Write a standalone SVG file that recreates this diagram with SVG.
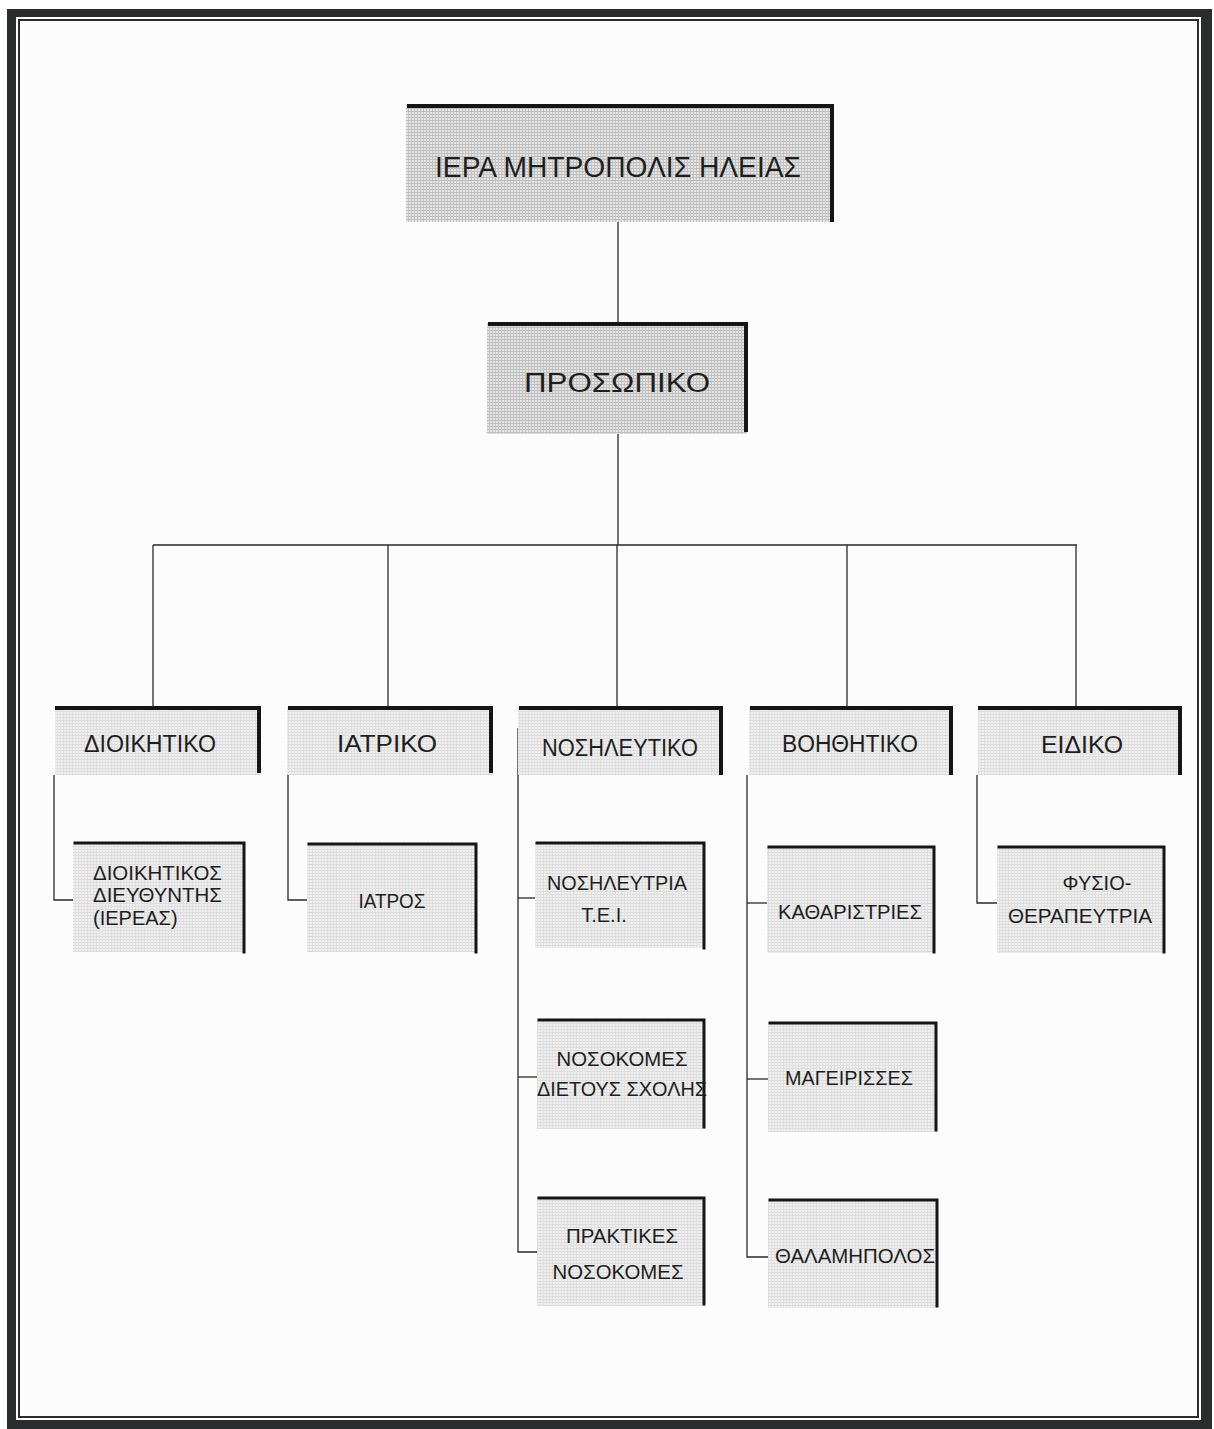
<svg xmlns="http://www.w3.org/2000/svg" width="1214" height="1429" viewBox="0 0 1214 1429">
<style>
.t{font-family:"Liberation Sans",Arial,sans-serif;fill:#1e1e1e;text-anchor:middle}
.c{stroke:#2a2a2a;stroke-width:1.3;fill:none}
.edge{stroke:#151515;fill:none;stroke-linecap:square}
</style>
<defs>
<pattern id="htDark" width="3" height="3" patternUnits="userSpaceOnUse">
<rect width="3" height="3" fill="#e4e4e4"/>
<rect width="3" height="1" fill="#bdbdbd"/>
<rect width="1" height="3" fill="#c4c4c4"/>
</pattern>
<pattern id="htLight" width="3" height="3" patternUnits="userSpaceOnUse">
<rect width="3" height="3" fill="#f0f0f0"/>
<rect width="3" height="1" fill="#dcdcdc"/>
<rect width="1" height="3" fill="#e0e0e0"/>
</pattern>
</defs>

<g id="frame">
<rect x="7" y="9" width="1205" height="1420" fill="#2a2c2e"/>
<rect x="16" y="17" width="1185" height="1403" fill="#ffffff"/>
<rect x="19" y="20" width="1179" height="1397" fill="#fbfcfb" stroke="#2a2c2e" stroke-width="2"/>
</g>

<g id="connectors" class="c">
<line x1="618" y1="222" x2="618" y2="324"/>
<line x1="618" y1="434" x2="618" y2="545"/>
<line x1="153" y1="545" x2="1077" y2="545"/>
<line x1="153" y1="545" x2="153" y2="707"/>
<line x1="388" y1="545" x2="388" y2="707"/>
<line x1="617" y1="545" x2="617" y2="707"/>
<line x1="847" y1="545" x2="847" y2="707"/>
<line x1="1076" y1="545" x2="1076" y2="707"/>
<polyline points="54,775 54,900 73,900"/>
<polyline points="288,775 288,900 307,900"/>
<polyline points="518,728 518,1252 537,1252"/>
<line x1="518" y1="898" x2="535" y2="898"/>
<line x1="518" y1="1077" x2="537" y2="1077"/>
<polyline points="747,775 747,1257 768,1257"/>
<line x1="747" y1="903" x2="767" y2="903"/>
<line x1="747" y1="1079" x2="768" y2="1079"/>
<polyline points="977,775 977,903 997,903"/>
</g>

<g id="n-mitropolis">
<rect x="406" y="105" width="427" height="117" fill="url(#htDark)"/>
<path class="edge" d="M409,106 H832 V220" stroke-width="4"/>
<text class="t" x="618" y="177" font-size="30" textLength="366" lengthAdjust="spacingAndGlyphs">ΙΕΡΑ ΜΗΤΡΟΠΟΛΙΣ ΗΛΕΙΑΣ</text>
</g>

<g id="n-prosopiko">
<rect x="487" y="323" width="260" height="111" fill="url(#htDark)"/>
<path class="edge" d="M490,324 H746 V430" stroke-width="4"/>
<text class="t" x="617" y="392" font-size="27" textLength="186" lengthAdjust="spacingAndGlyphs">ΠΡΟΣΩΠΙΚΟ</text>
</g>

<g id="n-dioikitiko">
<rect x="55" y="707" width="206" height="68" fill="url(#htLight)"/>
<path class="edge" d="M57,708 H259 V771" stroke-width="4"/>
<text class="t" x="150" y="752" font-size="23" textLength="132" lengthAdjust="spacingAndGlyphs">ΔΙΟΙΚΗΤΙΚΟ</text>
</g>

<g id="n-iatriko">
<rect x="287" y="707" width="206" height="68" fill="url(#htLight)"/>
<path class="edge" d="M290,708 H491 V771" stroke-width="4"/>
<text class="t" x="387" y="752" font-size="23" textLength="100" lengthAdjust="spacingAndGlyphs">ΙΑΤΡΙΚΟ</text>
</g>

<g id="n-nosileftiko">
<rect x="518" y="707" width="205" height="68" fill="url(#htLight)"/>
<path class="edge" d="M521,708 H721 V773" stroke-width="4"/>
<text class="t" x="620" y="756" font-size="23" textLength="156" lengthAdjust="spacingAndGlyphs">ΝΟΣΗΛΕΥΤΙΚΟ</text>
</g>

<g id="n-voithitiko">
<rect x="749" y="707" width="204" height="68" fill="url(#htLight)"/>
<path class="edge" d="M752,708 H951 V773" stroke-width="4"/>
<text class="t" x="850" y="752" font-size="23" textLength="136" lengthAdjust="spacingAndGlyphs">ΒΟΗΘΗΤΙΚΟ</text>
</g>

<g id="n-eidiko">
<rect x="978" y="707" width="204" height="68" fill="url(#htLight)"/>
<path class="edge" d="M980,708 H1180 V773" stroke-width="4"/>
<text class="t" x="1082" y="753" font-size="23" textLength="82" lengthAdjust="spacingAndGlyphs">ΕΙΔΙΚΟ</text>
</g>

<g id="n-dioikitikos">
<rect x="73" y="842" width="172" height="110" fill="url(#htLight)"/>
<path class="edge" d="M75,843 H244 V952" stroke-width="3"/>
<text class="t" x="93" y="880" font-size="20" style="text-anchor:start" textLength="129" lengthAdjust="spacingAndGlyphs">ΔΙΟΙΚΗΤΙΚΟΣ</text>
<text class="t" x="93" y="902" font-size="20" style="text-anchor:start" textLength="129" lengthAdjust="spacingAndGlyphs">ΔΙΕΥΘΥΝΤΗΣ</text>
<text class="t" x="93" y="925" font-size="20" style="text-anchor:start">(ΙΕΡΕΑΣ)</text>
</g>

<g id="n-iatros">
<rect x="307" y="843" width="170" height="109" fill="url(#htLight)"/>
<path class="edge" d="M309,844 H476 V952" stroke-width="3"/>
<text class="t" x="392" y="908" font-size="20" textLength="67" lengthAdjust="spacingAndGlyphs">ΙΑΤΡΟΣ</text>
</g>

<g id="n-nosileftria">
<rect x="535" y="842" width="170" height="106" fill="url(#htLight)"/>
<path class="edge" d="M537,843 H704 V948" stroke-width="3"/>
<text class="t" x="617" y="890" font-size="20" textLength="140" lengthAdjust="spacingAndGlyphs">ΝΟΣΗΛΕΥΤΡΙΑ</text>
<text class="t" x="604" y="922" font-size="20">Τ.Ε.Ι.</text>
</g>

<g id="n-nosokomes-dietous">
<rect x="537" y="1019" width="168" height="110" fill="url(#htLight)"/>
<path class="edge" d="M539,1020 H704 V1127" stroke-width="3"/>
<text class="t" x="622" y="1066" font-size="20" textLength="131" lengthAdjust="spacingAndGlyphs">ΝΟΣΟΚΟΜΕΣ</text>
<text class="t" x="537" y="1096" font-size="20" style="text-anchor:start" textLength="170" lengthAdjust="spacingAndGlyphs">ΔΙΕΤΟΥΣ ΣΧΟΛΗΣ</text>
</g>

<g id="n-praktikes">
<rect x="537" y="1197" width="168" height="109" fill="url(#htLight)"/>
<path class="edge" d="M539,1198 H704 V1304" stroke-width="3"/>
<text class="t" x="622" y="1243" font-size="20" textLength="112" lengthAdjust="spacingAndGlyphs">ΠΡΑΚΤΙΚΕΣ</text>
<text class="t" x="618" y="1279" font-size="20" textLength="131" lengthAdjust="spacingAndGlyphs">ΝΟΣΟΚΟΜΕΣ</text>
</g>

<g id="n-katharistries">
<rect x="767" y="846" width="168" height="107" fill="url(#htLight)"/>
<path class="edge" d="M769,847 H934 V952" stroke-width="3"/>
<text class="t" x="850" y="919" font-size="20" textLength="144" lengthAdjust="spacingAndGlyphs">ΚΑΘΑΡΙΣΤΡΙΕΣ</text>
</g>

<g id="n-mageirisses">
<rect x="768" y="1022" width="169" height="110" fill="url(#htLight)"/>
<path class="edge" d="M770,1023 H936 V1130" stroke-width="3"/>
<text class="t" x="849" y="1085" font-size="20" textLength="128" lengthAdjust="spacingAndGlyphs">ΜΑΓΕΙΡΙΣΣΕΣ</text>
</g>

<g id="n-thalamipolos">
<rect x="768" y="1199" width="170" height="109" fill="url(#htLight)"/>
<path class="edge" d="M770,1200 H937 V1306" stroke-width="3"/>
<text class="t" x="855" y="1263" font-size="20" textLength="160" lengthAdjust="spacingAndGlyphs">ΘΑΛΑΜΗΠΟΛΟΣ</text>
</g>

<g id="n-fysiotherapeftria">
<rect x="997" y="846" width="168" height="107" fill="url(#htLight)"/>
<path class="edge" d="M999,847 H1164 V952" stroke-width="3"/>
<text class="t" x="1097" y="890" font-size="20">ΦΥΣΙΟ-</text>
<text class="t" x="1080" y="923" font-size="20" textLength="144" lengthAdjust="spacingAndGlyphs">ΘΕΡΑΠΕΥΤΡΙΑ</text>
</g>
</svg>
